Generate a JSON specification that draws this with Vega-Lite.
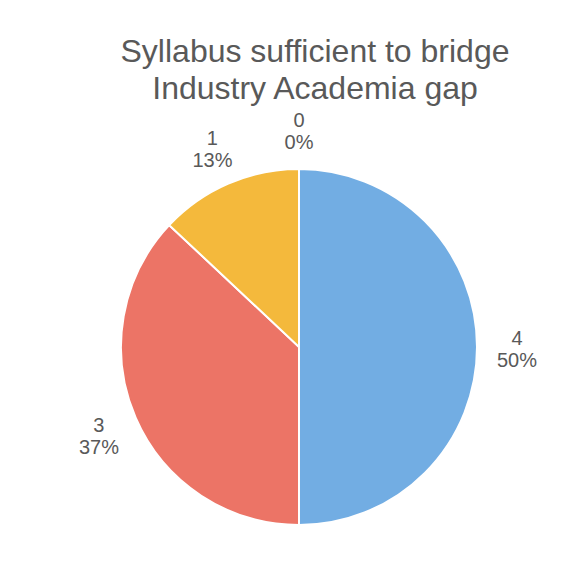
{
  "$schema": "https://vega.github.io/schema/vega-lite/v6.json",
  "width": 550,
  "height": 462,
  "autosize": "none",
  "padding": {"left": 24, "top": 116, "right": 0, "bottom": 0},
  "background": "white",
  "config": {"view": {"stroke": null}},
  "title": {
    "text": ["Syllabus sufficient to bridge", "Industry Academia gap"],
    "font": "Liberation Sans",
    "fontSize": 32,
    "fontWeight": "normal",
    "color": "#595959",
    "anchor": "middle",
    "dx": 16,
    "offset": 5,
    "lineHeight": 37
  },
  "data": {
    "values": [
      {"score": 4, "pct": 50, "label": "4\n50%"},
      {"score": 3, "pct": 37, "label": "3\n37%"},
      {"score": 1, "pct": 13, "label": "1\n13%"},
      {"score": 0, "pct": 0, "label": "0\n0%"}
    ]
  },
  "encoding": {
    "theta": {"field": "pct", "type": "quantitative", "stack": true},
    "order": {"field": "score", "type": "quantitative", "sort": "descending"}
  },
  "layer": [
    {
      "mark": {"type": "arc", "outerRadius": 178, "stroke": "white", "strokeWidth": 2},
      "encoding": {
        "color": {
          "field": "score",
          "type": "nominal",
          "scale": {"domain": [4, 3, 1, 0], "range": ["#72ade3", "#ec7466", "#f4b93c", "#a5a5a5"]},
          "legend": null
        }
      }
    },
    {
      "mark": {
        "type": "text",
        "radius": 218,
        "dy": -8,
        "font": "Liberation Sans",
        "fontSize": 20,
        "color": "#595959",
        "lineBreak": "\n",
        "lineHeight": 22,
        "align": "center",
        "baseline": "middle"
      },
      "encoding": {"text": {"field": "label"}}
    }
  ]
}
